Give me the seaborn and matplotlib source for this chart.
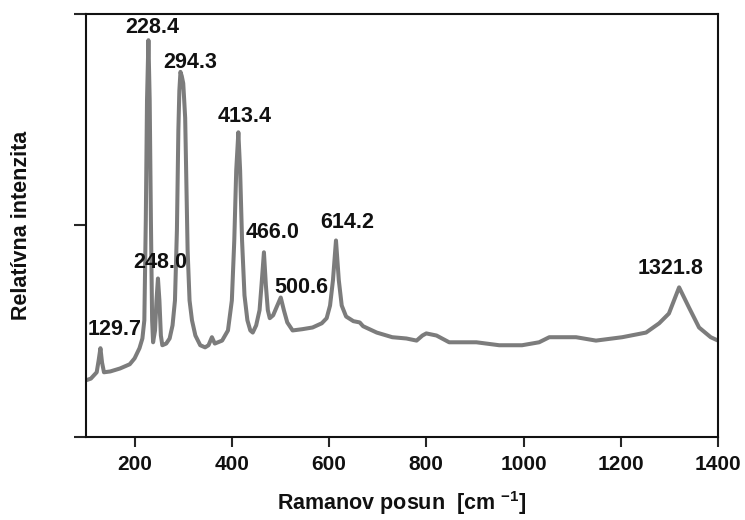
import matplotlib
matplotlib.use("Agg")
import matplotlib.pyplot as plt
import seaborn as sns
import pandas as pd

# Raman spectrum (shift in cm-1, relative intensity 0-100)
shift = [100, 110, 122, 126, 129.7, 133, 137, 150, 170, 190, 200, 210, 216, 220,
         223, 225.5, 228.4, 231, 233.5, 236, 238, 242, 245, 248, 251, 254, 257,
         265, 272, 278, 283, 287, 290, 292, 294.3, 297, 300, 302, 304, 306, 309,
         313, 318, 325, 335, 345, 352, 359, 365, 380, 392, 400, 405, 409, 413.4,
         417, 421, 426, 432, 438, 443, 450, 457, 461, 466, 470, 474, 478, 485,
         492, 500.6, 507, 514, 525, 545, 566, 585, 595, 602, 608, 614.2, 620,
         626, 635, 650, 663, 670, 698, 730, 759, 780, 792, 800, 821, 847, 903,
         950, 997, 1032, 1053, 1108, 1149, 1203, 1252, 1279, 1299, 1320, 1340,
         1361, 1385, 1400]
intensity = [13.3, 13.7, 15.2, 18.0, 20.9, 17.5, 15.2, 15.4, 16.1, 17.1, 18.5,
             20.9, 23.2, 27.5, 51.2, 79.6, 93.8, 79.6, 51.2, 27.5, 22.3, 25.1,
             32.2, 37.4, 32.2, 23.9, 21.6, 22.0, 23.2, 26.3, 32.2, 48.8, 72.5,
             81.8, 86.3, 85.3, 83.6, 79.6, 75.4, 63.0, 44.1, 32.2, 27.5, 23.9,
             21.6, 21.1, 21.6, 23.5, 22.0, 22.7, 25.1, 32.2, 46.4, 63.0, 72.0,
             63.0, 46.4, 33.4, 27.5, 25.1, 24.6, 26.3, 29.9, 35.8, 43.6, 35.8,
             29.9, 28.0, 28.7, 30.6, 32.9, 29.9, 27.0, 25.1, 25.4, 25.8, 26.8,
             28.0, 31.0, 37.0, 46.4, 37.0, 31.0, 28.4, 27.3, 27.0, 26.1, 24.6,
             23.5, 23.2, 22.7, 23.9, 24.4, 23.9, 22.3, 22.3, 21.6, 21.6, 22.3,
             23.5, 23.5, 22.7, 23.5, 24.6, 26.8, 29.1, 35.3, 30.6, 25.8, 23.5,
             22.7]

# peak annotations: label, x and y of the text centre
peak_labels = ["228.4", "294.3", "413.4", "248.0", "129.7", "466.0", "500.6", "614.2", "1321.8"]
label_x = [235.5, 313.6, 426.5, 252, 159.5, 484, 543.5, 638, 1303]
label_y = [96.7, 88.6, 75.8, 41.2, 25.4, 48.3, 35.3, 50.7, 39.8]

xticks = [200, 400, 600, 800, 1000, 1200, 1400]

sns.set_style("ticks")
plt.rcParams["font.family"] = ["Liberation Sans", "DejaVu Sans"]
plt.rcParams["mathtext.fontset"] = "custom"
plt.rcParams["mathtext.rm"] = "Liberation Sans:bold"
plt.rcParams["mathtext.bf"] = "Liberation Sans:bold"
plt.rcParams["mathtext.default"] = "bf"

df = pd.DataFrame({"shift": shift, "intensity": intensity})

fig = plt.figure(figsize=(7.45, 5.2), dpi=100)
ax = fig.add_axes([86 / 745, 1 - 436.5 / 520, 632 / 745, 422.5 / 520])

sns.lineplot(data=df, x="shift", y="intensity", ax=ax, color="#7c7c7c",
             linewidth=2.9, sort=False)

for lab, tx, ty in zip(peak_labels, label_x, label_y):
    ax.text(tx, ty, lab, ha="center", va="center", fontsize=15.5,
            fontweight="bold", color="#111111")

ax.set_xlim(100, 1400)
ax.set_ylim(0, 100)
ax.set_xticks(xticks)
ax.set_xticklabels([str(t) for t in xticks], fontsize=15, fontweight="bold",
                   color="#111111")
ax.set_yticks([0, 50, 100])
ax.set_yticklabels([])
ax.tick_params(axis="x", direction="out", length=7, width=1.5, pad=6)
ax.tick_params(axis="y", direction="out", length=9, width=1.5)
for sp in ax.spines.values():
    sp.set_linewidth(1.5)
    sp.set_color("#111111")

ax.set_xlabel("Ramanov posun  [cm $^{-1}$]", fontsize=15.5, fontweight="bold",
              color="#111111", labelpad=11)
ax.set_ylabel("Relatívna intenzita", fontsize=15.5, fontweight="bold",
              color="#111111")
ax.yaxis.set_label_coords(-0.086, 0.5)

fig.savefig("out.png", dpi=100)
